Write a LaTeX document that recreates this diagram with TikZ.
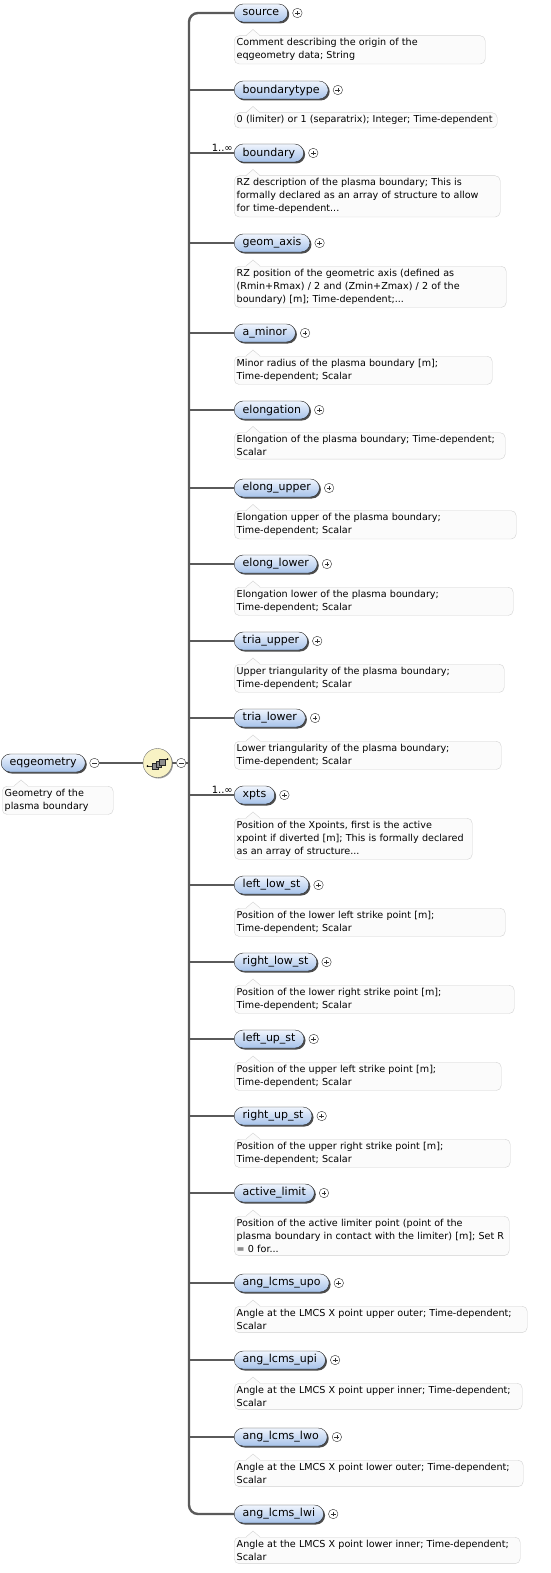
\documentclass[tikz,border=0pt]{standalone}
\usepackage{fontspec}
\setmainfont{DejaVu Sans}
\usetikzlibrary{positioning, calc, shadows}

\definecolor{elemtop}{HTML}{F0F5FD}
\definecolor{elembot}{HTML}{A6C2EA}
\definecolor{descfill}{HTML}{FBFBFB}
\definecolor{descline}{HTML}{D2D2D2}
\definecolor{linkgray}{HTML}{5A5A5A}
\definecolor{seqfill}{HTML}{F8F2C4}

\tikzset{
  elem/.style={draw=black!85, rounded corners=9pt, top color=elemtop, bottom color=elembot,
    minimum height=18pt, inner xsep=8.5pt, inner ysep=2pt, anchor=west,
    font=\fontsize{11}{12}\selectfont,
    drop shadow={shadow xshift=1.5pt, shadow yshift=-1.5pt, fill=black!70, opacity=1}},
  desc/.style={draw=descline, fill=descfill, rounded corners=5pt, text width=#1, align=left,
    inner xsep=2.5pt, inner ysep=3pt, anchor=north west, font=\fontsize{9.6}{13}\selectfont},
  plusminus/.style={circle, draw=black!80, fill=white, minimum size=9.5pt, inner sep=0pt},
  plus/.style={plusminus, path picture={
    \draw[line width=0.6pt] ($(path picture bounding box.center)+(-2.4pt,0pt)$) -- ++(4.8pt,0pt)
      ($(path picture bounding box.center)+(0pt,-2.4pt)$) -- ++(0pt,4.8pt);}},
  minus/.style={plusminus, path picture={
    \draw[line width=0.6pt] ($(path picture bounding box.center)+(-2.4pt,0pt)$) -- ++(4.8pt,0pt);}},
  mult/.style={inner sep=0pt, font=\fontsize{10}{11}\selectfont, anchor=south east},
  trunk/.style={draw=linkgray, line width=2.4pt, rounded corners=9pt},
  branch/.style={draw=linkgray, line width=2pt}
}

\begin{document}
\begin{tikzpicture}[x=1pt, y=-1pt]
\useasboundingbox (0,0) rectangle (551,1573);

% root element and its group
\node[elem] (e-root) at (1,763) {eqgeometry};
\node[minus, right=4pt of e-root] (m-root) {};
\node[desc=106pt] (d-root) at ($(e-root.west)+(1,23)$) {Geometry of the\\plasma boundary};

\node[circle, draw=black!55, fill=seqfill, minimum size=29pt, inner sep=0pt,
      drop shadow={shadow xshift=1pt, shadow yshift=-1pt, fill=black!40, opacity=1}] (seq) at (157.5,763) {};
\node[minus, right=4pt of seq] (m-seq) {};
\coordinate (hub) at (189,763);

% sequence icon
\draw[black!80, line width=0.7pt] ($(seq.center)+(-10,3)$) -- ($(seq.center)+(-5,3)$)
      ($(seq.center)+(5,-4)$) -- ($(seq.center)+(10,-4)$);
\fill[black] ($(seq.center)+(-10,3)$) circle (1pt) ($(seq.center)+(10,-4)$) circle (1pt);
\foreach \dx/\dy in {-5/0.5, -1.5/-1.5, 2/-3.5}
  \filldraw[draw=black!85, fill=black!45, line width=0.5pt]
    ($(seq.center)+(\dx,\dy)$) rectangle ++(5.5,5.5);

% child elements
\node[elem] (e-source)       at (234,13) {source};
\node[elem] (e-boundarytype) at (234,90) {boundarytype};
\node[elem] (e-boundary)     at (234,153) {boundary};
\node[elem] (e-geom_axis)    at (234,243) {geom\_axis};
\node[elem] (e-a_minor)      at (234,333) {a\_minor};
\node[elem] (e-elongation)   at (234,410) {elongation};
\node[elem] (e-elong_upper)  at (234,488) {elong\_upper};
\node[elem] (e-elong_lower)  at (234,564) {elong\_lower};
\node[elem] (e-tria_upper)   at (234,641) {tria\_upper};
\node[elem] (e-tria_lower)   at (234,718) {tria\_lower};
\node[elem] (e-xpts)         at (234,795) {xpts};
\node[elem] (e-left_low_st)  at (234,885) {left\_low\_st};
\node[elem] (e-right_low_st) at (234,962) {right\_low\_st};
\node[elem] (e-left_up_st)   at (234,1039) {left\_up\_st};
\node[elem] (e-right_up_st)  at (234,1116) {right\_up\_st};
\node[elem] (e-active_limit) at (234,1193) {active\_limit};
\node[elem] (e-ang_lcms_upo) at (234,1283) {ang\_lcms\_upo};
\node[elem] (e-ang_lcms_upi) at (234,1360) {ang\_lcms\_upi};
\node[elem] (e-ang_lcms_lwo) at (234,1437) {ang\_lcms\_lwo};
\node[elem] (e-ang_lcms_lwi) at (234,1514) {ang\_lcms\_lwi};

% descriptions
\node[desc=246pt] (d-source) at ($(e-source.west)+(0,22.5)$)
  {Comment describing the origin of the\\eqgeometry data; String};
\node[desc=258pt] (d-boundarytype) at ($(e-boundarytype.west)+(0,22.5)$)
  {0 (limiter) or 1 (separatrix); Integer; Time-dependent};
\node[desc=261pt] (d-boundary) at ($(e-boundary.west)+(0,22.5)$)
  {RZ description of the plasma boundary; This is\\formally declared as an array of structure to allow\\for time-dependent...};
\node[desc=267pt] (d-geom_axis) at ($(e-geom_axis.west)+(0,23)$)
  {RZ position of the geometric axis (defined as\\(Rmin+Rmax) / 2 and (Zmin+Zmax) / 2 of the\\boundary) [m]; Time-dependent;...};
\node[desc=253pt] (d-a_minor) at ($(e-a_minor.west)+(0,23)$)
  {Minor radius of the plasma boundary [m];\\Time-dependent; Scalar};
\node[desc=266pt] (d-elongation) at ($(e-elongation.west)+(0,22.5)$)
  {Elongation of the plasma boundary; Time-dependent;\\Scalar};
\node[desc=277pt] (d-elong_upper) at ($(e-elong_upper.west)+(0,22.5)$)
  {Elongation upper of the plasma boundary;\\Time-dependent; Scalar};
\node[desc=274pt] (d-elong_lower) at ($(e-elong_lower.west)+(0,23)$)
  {Elongation lower of the plasma boundary;\\Time-dependent; Scalar};
\node[desc=265pt] (d-tria_upper) at ($(e-tria_upper.west)+(0,23)$)
  {Upper triangularity of the plasma boundary;\\Time-dependent; Scalar};
\node[desc=262pt] (d-tria_lower) at ($(e-tria_lower.west)+(0,23)$)
  {Lower triangularity of the plasma boundary;\\Time-dependent; Scalar};
\node[desc=233pt] (d-xpts) at ($(e-xpts.west)+(0,23)$)
  {Position of the Xpoints, first is the active\\xpoint if diverted [m]; This is formally declared\\as an array of structure...};
\node[desc=266pt] (d-left_low_st) at ($(e-left_low_st.west)+(0,23)$)
  {Position of the lower left strike point [m];\\Time-dependent; Scalar};
\node[desc=275pt] (d-right_low_st) at ($(e-right_low_st.west)+(0,23)$)
  {Position of the lower right strike point [m];\\Time-dependent; Scalar};
\node[desc=262pt] (d-left_up_st) at ($(e-left_up_st.west)+(0,23)$)
  {Position of the upper left strike point [m];\\Time-dependent; Scalar};
\node[desc=271pt] (d-right_up_st) at ($(e-right_up_st.west)+(0,23)$)
  {Position of the upper right strike point [m];\\Time-dependent; Scalar};
\node[desc=270pt] (d-active_limit) at ($(e-active_limit.west)+(0,23)$)
  {Position of the active limiter point (point of the\\plasma boundary in contact with the limiter) [m]; Set R\\= 0 for...};
\node[desc=288pt] (d-ang_lcms_upo) at ($(e-ang_lcms_upo.west)+(0,23)$)
  {Angle at the LMCS X point upper outer; Time-dependent;\\Scalar};
\node[desc=283pt] (d-ang_lcms_upi) at ($(e-ang_lcms_upi.west)+(0,23)$)
  {Angle at the LMCS X point upper inner; Time-dependent;\\Scalar};
\node[desc=284pt] (d-ang_lcms_lwo) at ($(e-ang_lcms_lwo.west)+(0,23)$)
  {Angle at the LMCS X point lower outer; Time-dependent;\\Scalar};
\node[desc=281pt] (d-ang_lcms_lwi) at ($(e-ang_lcms_lwi.west)+(0,23)$)
  {Angle at the LMCS X point lower inner; Time-dependent;\\Scalar};

% pointers of the description boxes
\foreach \n in {root, source, boundarytype, boundary, geom_axis, a_minor, elongation,
    elong_upper, elong_lower, tria_upper, tria_lower, xpts, left_low_st, right_low_st,
    left_up_st, right_up_st, active_limit, ang_lcms_upo, ang_lcms_upi, ang_lcms_lwo, ang_lcms_lwi}{
  \fill[descfill] ($(d-\n.north west)+(12,0.8)$) -- ($(d-\n.north west)+(19,-6)$) -- ($(d-\n.north west)+(26,0.8)$) -- cycle;
  \draw[descline] ($(d-\n.north west)+(12,0)$) -- ($(d-\n.north west)+(19,-6)$) -- ($(d-\n.north west)+(26,0)$);
}

% plus signs
\foreach \n in {source, boundarytype, boundary, geom_axis, a_minor, elongation,
    elong_upper, elong_lower, tria_upper, tria_lower, xpts, left_low_st, right_low_st,
    left_up_st, right_up_st, active_limit, ang_lcms_upo, ang_lcms_upi, ang_lcms_lwo, ang_lcms_lwi}
  \node[plus, right=4.5pt of e-\n] (p-\n) {};

% multiplicities
\node[mult] (n-boundary) at ($(e-boundary.west)+(-1,-1.5)$) {1..∞};
\node[mult] (n-xpts) at ($(e-xpts.west)+(-1,-1.5)$) {1..∞};

% connectors
\draw[branch] (m-root.east) -- (seq.west);
\draw[branch] (seq.east) -- (m-seq.west);
\draw[branch] (m-seq.east) -- (hub);
\draw[trunk] (e-source.west) -| (hub) |- (e-ang_lcms_lwi.west);
\foreach \n in {boundarytype, boundary, geom_axis, a_minor, elongation,
    elong_upper, elong_lower, tria_upper, tria_lower, xpts, left_low_st, right_low_st,
    left_up_st, right_up_st, active_limit, ang_lcms_upo, ang_lcms_upi, ang_lcms_lwo}
  \draw[branch] (hub |- e-\n.west) -- (e-\n.west);
\end{tikzpicture}
\end{document}
